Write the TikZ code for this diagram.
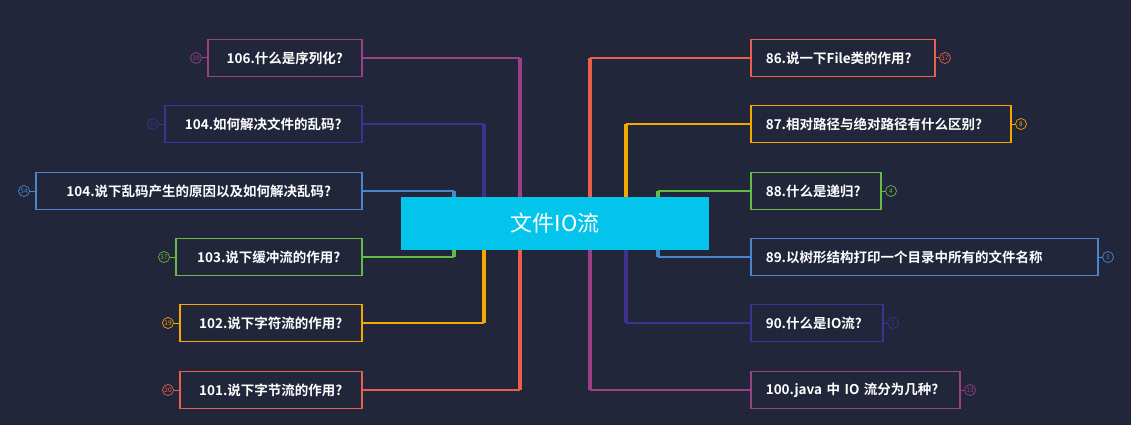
\documentclass[tikz,border=0pt]{standalone}
\usepackage{fontspec}
\setmainfont{Noto Sans CJK SC}
\newfontfamily\cjkb{Noto Sans CJK SC Bold}
\begin{document}
\begin{tikzpicture}[x=1pt,y=-1pt,
  bx/.style={draw=#1,line width=1.6pt,minimum height=37pt,inner sep=0pt,text=white,font=\cjkb\fontsize{13.5}{15}\selectfont},
  tr/.style={draw=#1,line width=4pt},
  br/.style={draw=#1,line width=1.8pt},
  cnt/.style={circle,draw=#1,line width=0.7pt,inner sep=0pt,minimum size=11pt,text=#1,font=\fontsize{6.5}{7}\selectfont}]
\definecolor{bg}{HTML}{22263A}
\definecolor{cpk}{HTML}{9B3F86}
\definecolor{cin}{HTML}{40308F}
\definecolor{cbl}{HTML}{4A86D0}
\definecolor{cgr}{HTML}{66BB44}
\definecolor{cye}{HTML}{F5A800}
\definecolor{crd}{HTML}{E8604C}
\definecolor{ccy}{HTML}{03C4EA}
\fill[bg] (0,0) rectangle (1131,425);
\useasboundingbox (0,0) rectangle (1131,425);
\node[fill=ccy,minimum width=308pt,minimum height=53pt,inner sep=0pt,text=white,font=\fontsize{22}{24}\selectfont] (c) at (555,223.5) {文件IO流};
% left
\foreach \n/\x/\y/\w/\col/\tx/\num/\t in {
 a/207/58/154/cpk/520/39/{106.什么是序列化?},
 b/164/124/197/cin/484/30/{104.如何解决文件的乱码?},
 d/35/191/326/cbl/454/54/{104.说下乱码产生的原因以及如何解决乱码?},
 e/175/257/186/cgr/454/37/{103.说下缓冲流的作用?},
 f/179/323/182/cye/484/19/{102.说下字符流的作用?},
 g/179/390/182/crd/520/20/{101.说下字节流的作用?}}{
  \node[bx=\col,minimum width=\w pt,anchor=west] (\n) at (\x,\y) {\t};
  \node[cnt=\col] (\n c) at (\x-11,\y) {\num};
  \draw[br=\col,line width=1pt] (\n c) -- (\n.west);
  \coordinate (\n k) at (\tx,\y);
  \draw[br=\col] (\n.east) -- (\n k);
 }
\draw[tr=cpk] (ak) -- (ak |- c.north);
\draw[tr=cin] (bk) -- (bk |- c.north);
\draw[tr=cbl] (dk) -- (dk |- c.north);
\draw[tr=cgr] (ek) -- (ek |- c.south);
\draw[tr=cye] (fk) -- (fk |- c.south);
\draw[tr=crd] (gk) -- (gk |- c.south);
% right
\foreach \n/\y/\w/\col/\tx/\num/\t in {
 p/58/184/crd/590/17/{86.说一下File类的作用?},
 q/124/260/cye/626/8/{87.相对路径与绝对路径有什么区别?},
 r/191/130/cgr/658/4/{88.什么是递归?},
 s/257/347/cbl/658/3/{89.以树形结构打印一个目录中所有的文件名称},
 u/323/132/cin/626/5/{90.什么是IO流?},
 v/390/209/cpk/590/13/{100.java 中 IO 流分为几种?}}{
  \node[bx=\col,minimum width=\w pt,anchor=west,align=left,text width=\w pt-30pt,inner xsep=15pt] (\n) at (750,\y) {\t};
  \node[cnt=\col] (\n c) at (750+\w+11,\y) {\num};
  \draw[br=\col,line width=1pt] (\n.east) -- (\n c);
  \coordinate (\n k) at (\tx,\y);
  \draw[br=\col] (\n.west) -- (\n k);
 }
\draw[tr=crd] (pk) -- (pk |- c.north);
\draw[tr=cye] (qk) -- (qk |- c.north);
\draw[tr=cgr] (rk) -- (rk |- c.north);
\draw[tr=cbl] (sk) -- (sk |- c.south);
\draw[tr=cin] (uk) -- (uk |- c.south);
\draw[tr=cpk] (vk) -- (vk |- c.south);
\end{tikzpicture}
\end{document}
